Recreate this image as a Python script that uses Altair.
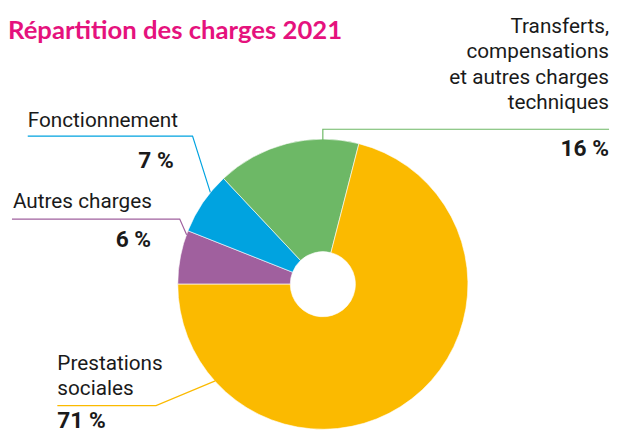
import math
import altair as alt
import pandas as pd

# ---- data ----
categories = ["Autres charges", "Fonctionnement",
              "Transferts, compensations et autres charges techniques",
              "Prestations sociales"]
values = [6, 7, 16, 71]
colors = ["#A0609E", "#00A3E0", "#6DB866", "#FBBA00"]
pct_labels = ["6 %", "7 %", "16 %", "71 %"]

title_text = "Répartition des charges 2021"

# ---- layout (view coordinates, page minus 8px margin) ----
OFF = 8
CX, CY = 327 - OFF, 285 - OFF
R_OUT, R_IN = 147, 33
W, H = 613, 428

df = pd.DataFrame({"cat": categories, "val": values, "order": list(range(len(values)))})

start = 1.5 * math.pi
pie = alt.Chart(df).mark_arc(outerRadius=R_OUT, innerRadius=R_IN, stroke="white", strokeWidth=0.6).encode(
    theta=alt.Theta("val:Q", stack=True, scale=alt.Scale(range=[start, start + 2 * math.pi])),
    order=alt.Order("order:Q"),
    color=alt.Color("cat:N", scale=alt.Scale(domain=categories, range=colors), legend=None),
    x=alt.value(CX), y=alt.value(CY),
)

# leader lines: polyline points per category (page coords)
leaders = {
    categories[0]: [(12, 219), (182, 219), (189, 235)],
    categories[1]: [(28, 135), (195, 135), (213, 192)],
    categories[2]: [(617, 128), (327, 128), (327, 140)],
    categories[3]: [(58, 408), (158, 408), (218, 383)],
}
rows = []
for c, pts in leaders.items():
    for i, (px, py) in enumerate(pts):
        rows.append({"cat": c, "i": i, "px": px - OFF, "py": py - OFF})
ldf = pd.DataFrame(rows)
lines = alt.Chart(ldf).mark_line(strokeWidth=1.2).encode(
    x=alt.X("px:Q", scale=None), y=alt.Y("py:Q", scale=None),
    detail="cat:N", order="i:Q",
    color=alt.Color("cat:N", scale=alt.Scale(domain=categories, range=colors), legend=None),
)

FONT = "Roboto, Liberation Sans, sans-serif"
FS = 21
FS_PCT = 23
# names: (text, x, baseline y, align)
names = [
    ("Autres charges", 13, 208, "left"),
    ("Fonctionnement", 28, 126, "left"),
    ("Transferts,", 617, 30, "right"),
    ("compensations", 617, 56, "right"),
    ("et autres charges", 617, 82, "right"),
    ("techniques", 617, 107, "right"),
    ("Prestations", 58, 372, "left"),
    ("sociales", 58, 397, "left"),
]
ndf = pd.DataFrame([{"t": t, "px": x - OFF, "py": y - OFF, "al": a} for t, x, y, a in names])
name_left = alt.Chart(ndf[ndf.al == "left"]).mark_text(
    align="left", baseline="alphabetic", font=FONT, fontSize=FS, color="#1a1a1a"
).encode(x=alt.X("px:Q", scale=None), y=alt.Y("py:Q", scale=None), text="t:N")
name_right = alt.Chart(ndf[ndf.al == "right"]).mark_text(
    align="right", baseline="alphabetic", font=FONT, fontSize=FS, color="#1a1a1a"
).encode(x=alt.X("px:Q", scale=None), y=alt.Y("py:Q", scale=None), text="t:N")

pct_pos = [(153, 247, "right"), (176, 167, "right"), (617, 155, "right"), (58, 431, "left")]
pdf = pd.DataFrame([{"t": pct_labels[k], "px": p[0] - OFF, "py": p[1] - OFF, "al": p[2]}
                    for k, p in enumerate(pct_pos)])
pct_right = alt.Chart(pdf[pdf.al == "right"]).mark_text(
    align="right", baseline="alphabetic", font=FONT, fontSize=FS_PCT, fontWeight="bold", color="#1a1a1a"
).encode(x=alt.X("px:Q", scale=None), y=alt.Y("py:Q", scale=None), text="t:N")
pct_left = alt.Chart(pdf[pdf.al == "left"]).mark_text(
    align="left", baseline="alphabetic", font=FONT, fontSize=FS_PCT, fontWeight="bold", color="#1a1a1a"
).encode(x=alt.X("px:Q", scale=None), y=alt.Y("py:Q", scale=None), text="t:N")

title = alt.Chart(pd.DataFrame({"t": [title_text]})).mark_text(
    align="left", baseline="alphabetic", font="Lato, Open Sans, sans-serif", fontSize=26,
    fontWeight="bold", color="#E5127D"
).encode(x=alt.value(0), y=alt.value(37 - OFF), text="t:N")

chart = alt.layer(pie, lines, name_left, name_right, pct_right, pct_left, title).properties(
    width=W, height=H, autosize=alt.AutoSizeParams(type="none"), padding=0
).configure_view(stroke=None)

chart.save("out.html", embed_options={"renderer": "svg", "actions": False})
